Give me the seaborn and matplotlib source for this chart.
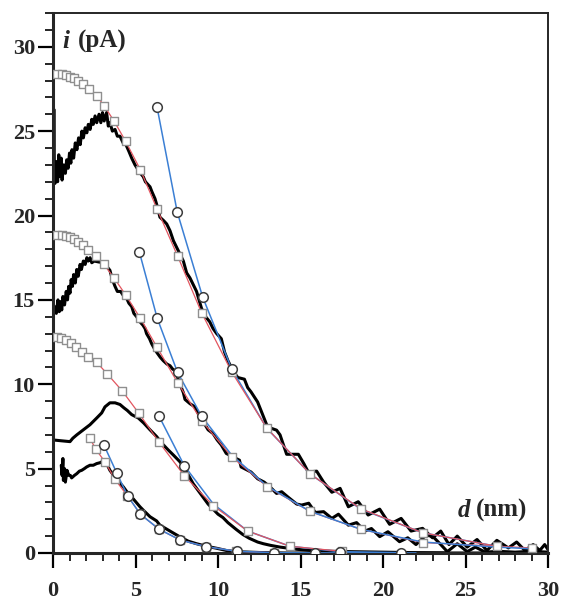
import matplotlib
matplotlib.use("Agg")
import matplotlib.pyplot as plt
from matplotlib.ticker import MultipleLocator
import seaborn as sns
import pandas as pd

# ---------------- data ----------------
# experimental (black) curves, (d, i) pairs
exp_a = [(0.02,22.5),(0.05,26.3),(0.08,23.0),(0.12,21.9),(0.2,23.2),(0.28,22.0),(0.35,23.6),(0.42,22.3),
         (0.5,23.4),(0.55,22.1),(0.65,23.0),(0.75,22.5),(0.83,23.3),(0.92,22.8),(1.0,23.7),(1.08,23.1),
         (1.15,23.9),(1.25,23.4),(1.35,24.3),(1.45,23.9),(1.55,24.6),(1.65,24.2),(1.75,25.0),(1.84,24.6),
         (1.95,25.2),(2.05,24.9),(2.14,25.4),(2.25,25.1),(2.35,25.7),(2.44,25.4),(2.55,25.9),(2.65,25.5),
         (2.79,26.0),(2.9,25.5),(3.0,26.1),(3.1,25.6),(3.25,26.1),(3.35,25.3),(3.45,25.5),(3.6,25.0),
         (3.76,25.1),(3.9,24.7),(4.06,24.7),(4.25,24.3),(4.42,24.2),(4.6,23.8),(4.77,23.4),(4.97,23.0),
         (5.1,22.8),(5.3,22.5),(5.47,22.3),(5.6,22.0),(5.88,21.7),(6.0,21.4),(6.18,21.0),(6.3,20.6),
         (6.48,19.9),(6.7,19.7),(6.89,19.5),(7.09,19.1),(7.3,18.5),(7.5,18.1),(7.7,17.7),(7.9,17.3),
         (8.1,16.6),(8.3,16.3),(8.5,15.9),(8.7,15.5),(9.0,14.5),(9.25,14.0),(9.5,13.7),(9.7,13.3),
         (9.92,13.0),(10.2,12.7),(10.4,11.9),(10.6,11.4),(10.9,10.8),(11.2,10.4),(11.6,10.3),(11.8,9.8),
         (12.0,9.55),(12.4,8.95),(12.6,8.46),(12.95,7.6),(13.2,7.4),(13.55,7.28),(13.76,7.0),(14.16,5.85),
         (14.5,5.85),(14.87,5.85),(15.2,5.3),(15.47,4.8),(15.98,4.85),(16.4,4.2),(16.9,3.6),(17.4,3.83),
         (17.9,2.74),(18.5,3.04),(19.1,2.25),(19.8,2.6),(20.4,1.7),(21.1,2.05),(21.7,1.3),(22.4,1.46),
         (23.0,0.9),(23.5,1.3),(24.0,0.5),(24.5,1.0),(25.1,0.35),(25.7,0.8),(26.3,0.15),(26.9,0.75),
         (27.6,0.3),(28.1,0.65),(28.6,0.15),(29.1,0.5),(29.5,0.15),(29.8,0.5),(30.0,0.2)]

exp_b = [(0.1,14.6),(0.2,14.2),(0.3,15.0),(0.38,14.3),(0.45,14.9),(0.53,14.4),(0.6,15.2),(0.7,14.7),
         (0.8,15.5),(0.88,15.0),(0.95,15.8),(1.03,15.4),(1.1,16.2),(1.18,15.8),(1.25,16.5),(1.35,16.0),
         (1.44,16.8),(1.53,16.4),(1.64,17.1),(1.72,16.8),(1.84,17.3),(1.95,17.1),(2.05,17.5),(2.14,17.3),
         (2.25,17.5),(2.35,17.2),(2.5,17.3),(2.75,17.25),(3.05,17.2),(3.25,17.0),(3.45,16.75),(3.6,16.2),
         (3.76,15.8),(3.9,15.5),(4.1,15.5),(4.3,15.2),(4.46,15.1),(4.6,14.8),(4.77,14.6),(4.9,14.2),
         (5.07,14.0),(5.27,13.7),(5.45,13.5),(5.58,13.3),(5.67,13.0),(5.85,12.7),(5.98,12.4),(6.15,12.1),
         (6.28,11.9),(6.5,11.6),(6.68,11.4),(6.9,11.2),(7.09,11.1),(7.25,10.9),(7.4,10.8),(7.55,10.4),
         (7.7,10.0),(7.9,9.5),(8.0,9.1),(8.3,8.85),(8.6,8.66),(8.9,8.07),(9.15,7.7),(9.4,7.3),
         (9.7,7.08),(9.95,6.7),(10.2,6.4),(10.5,5.9),(10.9,5.7),(11.3,5.5),(11.4,5.1),(11.7,4.95),
         (12.0,4.8),(12.4,4.4),(12.8,4.2),(13.15,3.92),(13.55,3.53),(13.86,3.63),(14.26,3.3),(14.77,2.9),
         (15.07,2.84),(15.5,2.95),(15.9,2.4),(16.4,2.45),(16.9,2.05),(17.3,2.3),(17.9,1.65),(18.4,1.8),
         (18.9,1.3),(19.3,1.45),(19.8,0.97),(20.3,1.26),(21.0,0.67),(21.5,0.9),(22.0,0.5),(22.6,1.05),
         (23.0,1.0),(23.5,0.5),(23.9,0.08),(24.5,0.55),(25.1,0.08),(25.6,0.35),(26.2,0.05),(27.0,0.1),
         (28.0,0.05),(29.0,0.1),(30.0,0.05)]

exp_c = [(0.0,6.7),(0.5,6.65),(1.03,6.6),(1.2,6.8),(1.44,7.0),(1.84,7.3),(2.24,7.6),(2.65,8.0),
         (2.95,8.3),(3.15,8.66),(3.45,8.9),(3.76,8.9),(4.06,8.8),(4.3,8.6),(4.5,8.45),(4.77,8.2),
         (5.17,8.0),(5.5,7.7),(5.88,7.3),(6.28,6.9),(6.6,6.5),(6.99,6.1),(7.3,5.8),(7.7,5.4),
         (8.1,4.8),(8.5,4.1),(8.8,3.7),(9.1,3.3),(9.4,2.9),(9.7,2.6),(10.0,2.3),(10.3,2.1),
         (10.6,1.8),(11.1,1.4),(11.5,1.1),(11.9,0.87),(12.4,0.65),(12.75,0.55),(13.2,0.45),(13.76,0.35),
         (14.77,0.22),(16.0,0.12),(18.0,0.08),(20.0,0.05),(22.0,0.02),(24.0,0.0)]

exp_d = [(0.5,5.2),(0.55,4.6),(0.6,5.6),(0.63,4.3),(0.7,5.0),(0.75,4.2),(0.85,4.9),(0.95,4.6),
         (1.05,4.6),(1.13,4.45),(1.3,4.6),(1.44,4.7),(1.6,4.85),(1.74,4.9),(1.9,5.0),(2.04,5.1),
         (2.24,5.2),(2.44,5.2),(2.65,5.3),(2.85,5.35),(3.05,5.45),(3.15,5.45),(3.3,5.2),(3.45,4.9),
         (3.6,4.7),(3.86,4.4),(4.06,4.15),(4.26,3.92),(4.5,3.6),(4.67,3.43),(4.87,3.2),(5.27,2.74),
         (5.47,2.54),(5.88,2.15),(6.28,1.9),(6.48,1.65),(7.09,1.3),(7.7,0.95),(8.2,0.7),(8.7,0.55),
         (9.3,0.4),(9.92,0.28),(10.5,0.15),(11.1,0.08),(12.5,0.03),(14.0,0.0),(30.0,0.0)]

# model curves (red line, squares)
sq_a_x = [0.22,0.53,0.77,1.03,1.27,1.53,1.84,2.18,2.65,3.1,3.7,4.4,5.3,6.3,7.55,9.0,10.83,12.95,15.6,18.65,22.4,26.9]
sq_a_y = [28.4,28.4,28.3,28.2,28.15,28.0,27.8,27.5,27.1,26.5,25.6,24.4,22.7,20.4,17.6,14.25,10.73,7.41,4.67,2.62,1.2,0.4]
sq_b_x = [0.22,0.53,0.77,1.03,1.27,1.53,1.84,2.14,2.6,3.09,3.7,4.4,5.3,6.3,7.55,9.01,10.83,12.99,15.58,18.67,22.4,29.0]
sq_b_y = [18.85,18.85,18.8,18.7,18.6,18.45,18.25,17.97,17.6,17.1,16.3,15.3,13.9,12.2,10.1,7.83,5.7,3.92,2.46,1.4,0.62,0.3]
sq_c_x = [0.22,0.5,0.8,1.1,1.4,1.75,2.15,2.65,3.3,4.2,5.21,6.44,7.96,9.72,11.8,14.36,17.5]
sq_c_y = [12.8,12.75,12.6,12.45,12.2,11.9,11.6,11.3,10.6,9.6,8.27,6.55,4.58,2.8,1.3,0.4,0.1]
sq_d_x = [2.24,2.6,3.15,3.76,4.5,5.3,6.4,7.7,9.3,11.1,13.4]
sq_d_y = [6.79,6.14,5.4,4.36,3.4,2.3,1.42,0.77,0.38,0.1,0.02]

# second model (blue line) and its circle markers
bl_a_x = [6.3,7.53,9.07,10.83,12.95,15.6,18.65,22.4,26.9]
bl_a_y = [26.45,20.2,15.17,10.9,7.4,4.67,2.6,1.2,0.4]
ci_a_x = [6.3,7.53,9.07,10.83]
ci_a_y = [26.45,20.2,15.17,10.9]
bl_b_x = [5.23,6.32,7.55,9.01,10.83,12.99,15.58,18.67,22.4,26.9,29.0]
bl_b_y = [17.85,13.9,10.7,8.1,5.8,3.95,2.47,1.4,0.65,0.35,0.25]
ci_b_x = [5.23,6.32,7.55,9.01]
ci_b_y = [17.85,13.9,10.7,8.1]
bl_c_x = [6.42,7.96,9.72,11.8,14.36,17.4,21.07]
bl_c_y = [8.12,5.17,2.9,1.3,0.4,0.08,0.02]
ci_c_x = [6.42,7.96,17.4,21.07]
ci_c_y = [8.12,5.17,0.08,0.02]
bl_d_x = [3.09,3.86,4.52,5.3,6.42,7.7,9.27,11.13,13.4,15.9,22.0]
bl_d_y = [6.39,4.75,3.39,2.29,1.42,0.77,0.38,0.1,0.02,0.0,0.0]
ci_d_x = [3.09,3.86,4.52,5.3,6.42,7.7,9.27,11.13,13.4,15.9]
ci_d_y = [6.39,4.75,3.39,2.29,1.42,0.77,0.38,0.1,0.02,0.0]

x_ticks = [0, 5, 10, 15, 20, 25, 30]
y_ticks = [0, 5, 10, 15, 20, 25, 30]

# ---------------- style ----------------
sns.set_style("ticks")
plt.rcParams["font.family"] = ["Liberation Serif", "DejaVu Serif"]
plt.rcParams["font.weight"] = "bold"

RED = "#e2555f"
BLUE = "#3b7fd4"
SQ_EDGE = "#8f8f8f"
CI_EDGE = "#3c3c3c"

fig = plt.figure(figsize=(5.63, 6.0), dpi=100)
ax = fig.add_axes([53/563, 47/600, 495/563, 540/600])

def line(x, y, color, lw, z):
    df = pd.DataFrame({"d": x, "i": y})
    sns.lineplot(data=df, x="d", y="i", sort=False, estimator=None, color=color,
                 linewidth=lw, ax=ax, zorder=z, legend=False)

for pts in (exp_a, exp_b, exp_c, exp_d):
    xs, ys = zip(*pts)
    line(list(xs), list(ys), "black", 2.2, 2)

# blue then red for A and C; red then blue for B and D
line(bl_a_x, bl_a_y, BLUE, 1.1, 3)
line(sq_a_x, sq_a_y, RED, 0.9, 4)
line(sq_b_x, sq_b_y, RED, 0.9, 3)
line(bl_b_x, bl_b_y, BLUE, 1.1, 4)
line(bl_c_x, bl_c_y, BLUE, 1.1, 3)
line(sq_c_x, sq_c_y, RED, 0.9, 4)
line(sq_d_x, sq_d_y, RED, 0.9, 3)
line(bl_d_x, bl_d_y, BLUE, 1.1, 4)

for xs, ys in ((sq_a_x, sq_a_y), (sq_b_x, sq_b_y), (sq_c_x, sq_c_y), (sq_d_x, sq_d_y)):
    sns.scatterplot(x=xs, y=ys, marker="s", s=26, color="white", edgecolor=SQ_EDGE,
                    linewidth=1.0, ax=ax, zorder=5, legend=False)
for xs, ys in ((ci_a_x, ci_a_y), (ci_b_x, ci_b_y), (ci_c_x, ci_c_y), (ci_d_x, ci_d_y)):
    sns.scatterplot(x=xs, y=ys, marker="o", s=48, color="white", edgecolor=CI_EDGE,
                    linewidth=1.1, ax=ax, zorder=6, legend=False)

ax.set_xlim(0, 30)
ax.set_ylim(0, 32)
ax.set_xlabel("")
ax.set_ylabel("")
ax.set_xticks(x_ticks)
ax.set_yticks(y_ticks)
ax.xaxis.set_minor_locator(MultipleLocator(1))
ax.yaxis.set_minor_locator(MultipleLocator(1))
ax.tick_params(axis="both", which="major", direction="out", length=10.5, width=1.6,
               labelsize=16, color="black")
ax.tick_params(axis="both", which="minor", direction="out", length=5.5, width=1.2, color="black")
ax.tick_params(axis="x", which="major", pad=10)
ax.tick_params(axis="y", which="major", pad=2.5)
for lab in ax.get_xticklabels() + ax.get_yticklabels():
    lab.set_fontweight("bold")

for side in ("left", "bottom"):
    ax.spines[side].set_linewidth(2.2)
for side in ("top", "right"):
    ax.spines[side].set_visible(True)
    ax.spines[side].set_linewidth(1.4)

ax.text(0.55, 30.3, "i", fontsize=18, fontweight="bold", style="italic", va="center", ha="left")
ax.text(1.5, 30.3, "(pA)", fontsize=18, fontweight="bold", va="center", ha="left")
ax.text(24.5, 2.5, "d", fontsize=18, fontweight="bold", style="italic", va="center", ha="left")
ax.text(25.65, 2.5, "(nm)", fontsize=18, fontweight="bold", va="center", ha="left")

fig.savefig("out.png", dpi=100)
